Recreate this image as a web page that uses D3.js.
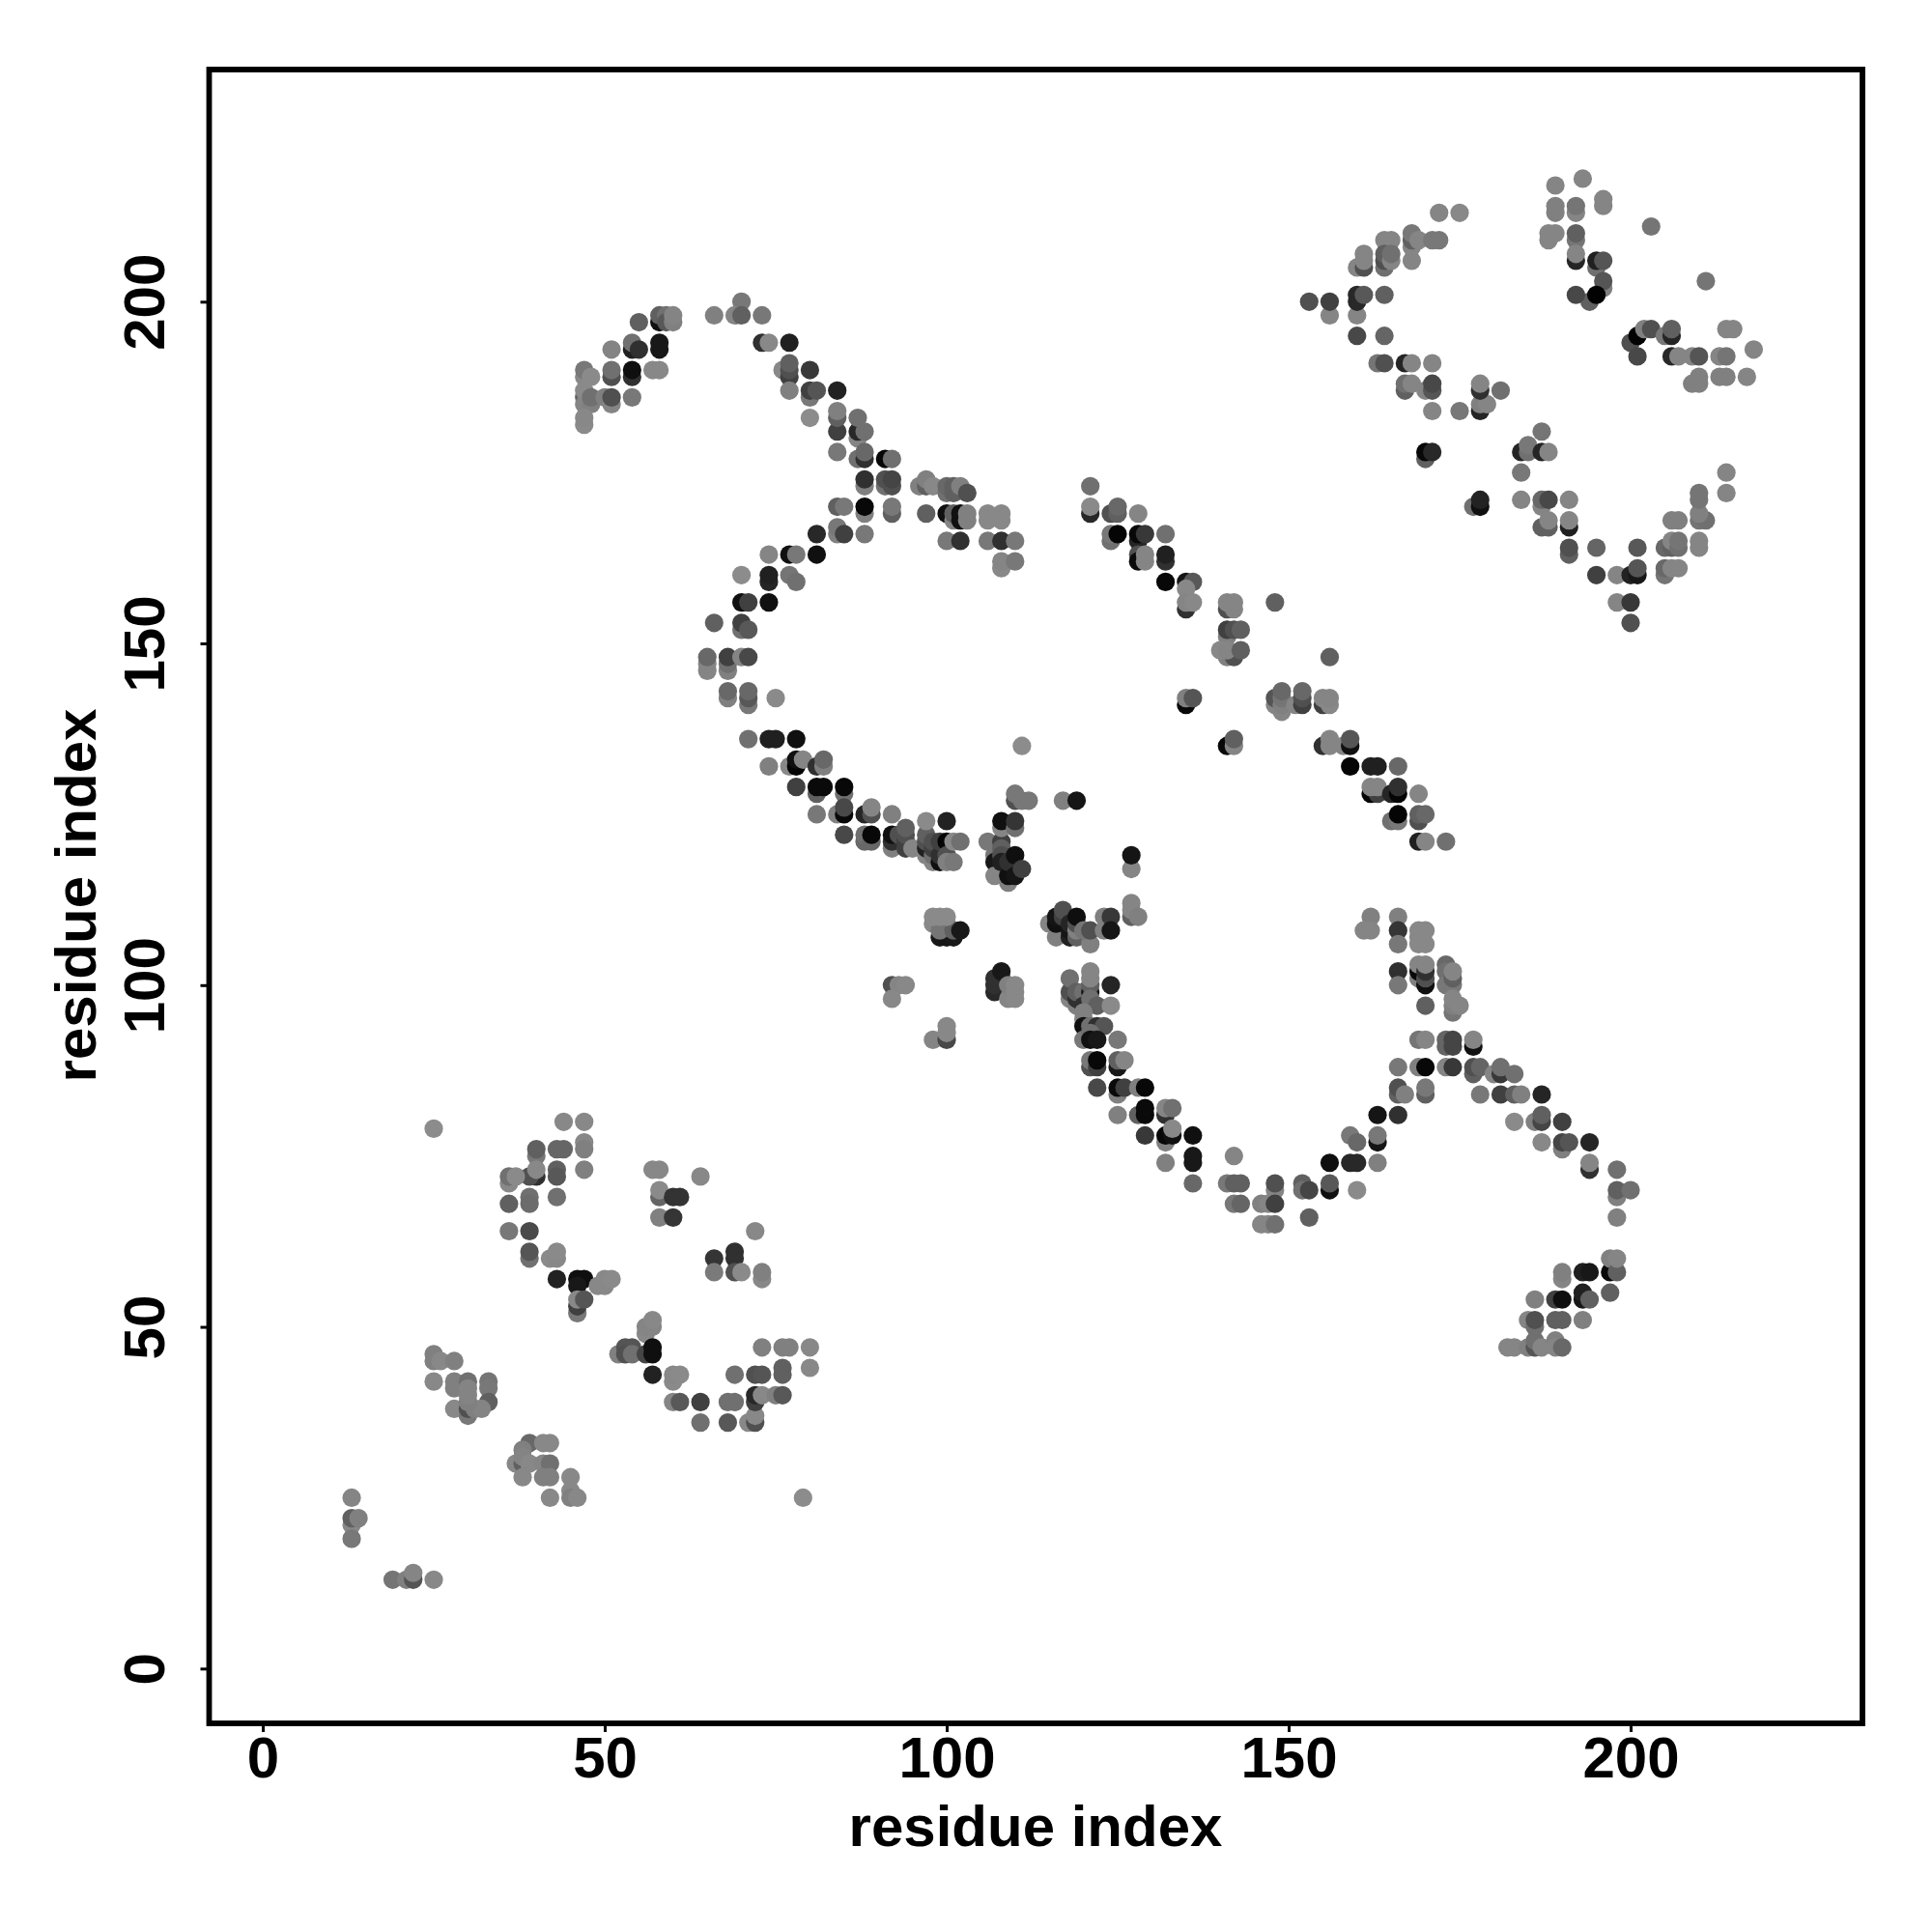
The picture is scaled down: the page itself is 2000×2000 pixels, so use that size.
<!DOCTYPE html>
<html><head><meta charset="utf-8">
<script src="https://cdn.jsdelivr.net/npm/d3@7"></script>
<style>html,body{margin:0;background:#fff}svg{display:block}text{font-family:"Liberation Sans",Arial,sans-serif;font-weight:700;fill:#000}</style>
</head><body><svg id="c" width="2000" height="2000"></svg>
<script>
const tickValues=[0,50,100,150,200];
const axisTitle="residue index";
// each contact: [residue i, residue j, grey level]
const lowerLeftA=[[25,79,0x8c],[44,80,0x88],[47,80,0x88],[47,77,0x88],[47,76,0x80],[40,75,0x78],[40,76,0x60],[43,76,0x66],[44,76,0x66],[40,72,0x30],[39,72,0x50],[40,73,0x88],[43,73,0x60],[43,72,0x58],[47,73,0x80],[36,71,0x88],[36,72,0x70],[37,72,0x8a],[36,68,0x60],[39,69,0x70],[39,68,0x6c],[43,69,0x70],[36,64,0x78],[39,64,0x4a],[39,60,0x70],[39,61,0x55],[42,60,0x8a],[43,60,0x88],[43,61,0x8a],[43,57,0x22],[46,57,0x0f],[47,57,0x0f],[46,56,0x18],[49,56,0x88],[50,56,0x88],[50,57,0x88],[51,57,0x8a],[46,52,0x78],[46,53,0x40],[46,54,0x88],[47,54,0x55]];
const lowerLeftB=[[57,73,0x88],[58,73,0x88],[58,69,0x65],[58,70,0x8a],[60,69,0x33],[61,69,0x33],[58,66,0x80],[60,66,0x35],[64,72,0x88],[72,64,0x88],[66,60,0x35],[69,60,0x30],[69,61,0x30],[66,58,0x7a],[69,58,0x50],[70,58,0x8a],[73,57,0x88],[73,58,0x80],[56,49,0x88],[56,50,0x85],[57,50,0x85],[57,51,0x88],[52,46,0x80],[53,47,0x55],[54,47,0x55],[53,46,0x50],[54,46,0x70],[56,46,0x45],[57,46,0x0f],[57,47,0x0f],[57,43,0x22],[60,42,0x8a],[60,43,0x88],[61,43,0x8a],[60,39,0x85],[61,39,0x58],[64,39,0x40],[68,39,0x70],[69,39,0x70],[64,36,0x70],[68,36,0x58],[71,36,0x88],[72,36,0x50],[72,37,0x88],[69,43,0x70],[72,43,0x50],[73,43,0x55],[76,43,0x60],[76,44,0x60],[73,47,0x80],[76,47,0x80],[77,47,0x80],[80,47,0x88],[80,44,0x88],[72,39,0x40],[72,40,0x28],[73,40,0x88],[75,40,0x80],[76,40,0x58]];
const lowerLeftC=[[25,45,0x80],[25,46,0x80],[26,45,0x88],[28,45,0x80],[25,42,0x88],[28,41,0x80],[28,42,0x80],[30,42,0x70],[33,42,0x75],[33,41,0x78],[33,39,0x60],[28,38,0x88],[30,37,0x78],[30,38,0x50],[31,38,0x80],[32,38,0x84],[30,39,0x80],[30,40,0x84],[30,41,0x84],[39,33,0x68],[41,33,0x88],[42,33,0x88],[38,32,0x80],[37,30,0x88],[38,30,0x60],[38,31,0x84],[39,30,0x88],[41,30,0x85],[42,30,0x70],[38,28,0x88],[41,28,0x80],[42,28,0x80],[45,28,0x88],[45,26,0x88],[42,25,0x88],[45,25,0x80],[46,25,0x88],[79,25,0x8c],[13,25,0x85],[13,21,0x88],[13,22,0x60],[14,22,0x80],[13,19,0x78],[19,13,0x75],[21,13,0x80],[22,13,0x55],[22,14,0x85],[25,13,0x88]];
const upperArcA=[[70,200,0x78],[66,198,0x80],[69,198,0x85],[70,198,0x60],[73,198,0x78],[58,197,0x10],[58,198,0x60],[59,198,0x70],[59,197,0x58],[60,197,0x80],[60,198,0x84],[55,197,0x60],[51,193,0x84],[54,193,0x20],[54,194,0x70],[55,193,0x30],[58,193,0x18],[58,194,0x18],[47,189,0x88],[47,190,0x78],[48,189,0x8a],[51,189,0x50],[51,190,0x70],[54,189,0x30],[54,190,0x0f],[57,190,0x88],[58,190,0x88],[47,186,0x60],[47,185,0x85],[47,187,0x8a],[48,185,0x80],[48,186,0x70],[50,186,0x80],[51,185,0x85],[51,186,0x50],[54,186,0x78],[47,182,0x8a],[47,183,0x88]];
const upperArcB=[[73,194,0x30],[74,194,0x88],[77,194,0x20],[76,190,0x88],[77,189,0x40],[77,190,0x50],[77,191,0x60],[80,190,0x38],[77,187,0x80],[80,186,0x78],[80,187,0x40],[81,187,0x55],[84,187,0x22],[80,183,0x8c],[84,181,0x40],[84,183,0x60],[84,184,0x80],[87,180,0x85],[87,181,0x28],[87,183,0x70],[88,181,0x70],[84,178,0x78],[87,177,0x70],[88,177,0x30],[88,178,0x68],[91,177,0x08],[92,177,0x70],[88,173,0x80],[88,174,0x30],[91,173,0x70],[91,174,0x50],[92,173,0x50],[92,174,0x45],[96,173,0x80],[97,173,0x60],[97,174,0x80],[98,173,0x88],[100,172,0x70],[100,173,0x68],[101,172,0x60],[101,173,0x60],[102,173,0x80],[103,172,0x50]];
const upperArcC=[[84,170,0x60],[85,170,0x78],[88,169,0x80],[88,170,0x08],[92,169,0x60],[92,170,0x78],[97,169,0x60],[100,169,0x10],[101,168,0x85],[101,169,0x60],[102,168,0x10],[102,169,0x10],[103,168,0x80],[103,169,0x80],[106,168,0x88],[106,169,0x88],[108,168,0x88],[108,169,0x88],[84,166,0x80],[84,167,0x78],[85,166,0x40],[88,166,0x78],[81,166,0x28],[81,163,0x10],[74,163,0x85],[77,163,0x10],[78,163,0x78],[100,165,0x78],[102,165,0x30],[106,165,0x78],[108,165,0x30],[110,165,0x78],[108,161,0x88],[108,162,0x85],[110,162,0x78],[70,160,0x8c],[74,159,0x25],[74,160,0x20],[77,160,0x75],[78,159,0x70],[70,156,0x10],[71,156,0x40],[74,156,0x10],[66,153,0x60],[70,152,0x70],[70,153,0x40],[71,152,0x58]];
const innerLoopA=[[65,146,0x85],[65,147,0x85],[65,148,0x68],[68,146,0x80],[68,147,0x70],[68,148,0x40],[70,148,0x85],[71,148,0x48],[68,142,0x80],[68,143,0x68],[71,141,0x78],[71,142,0x58],[71,143,0x68],[75,142,0x8a],[71,136,0x70],[74,136,0x20],[75,136,0x20],[78,136,0x10],[74,132,0x80],[77,132,0x88],[78,132,0x05],[78,133,0x10],[79,133,0x85],[81,132,0x30],[82,132,0x80],[82,133,0x68],[81,128,0x60],[78,129,0x40],[81,129,0x0a],[82,129,0x0a],[85,128,0x70],[85,129,0x08],[84,125,0x80],[81,125,0x78],[85,125,0x08],[85,126,0x48],[88,125,0x25],[89,125,0x50],[89,126,0x85],[92,125,0x80],[111,135,0x8c]];
const centerA=[[85,122,0x48],[88,121,0x68],[88,122,0x70],[89,121,0x68],[89,122,0x08],[92,120,0x80],[92,121,0x30],[92,122,0x10],[93,122,0x50],[94,120,0x40],[94,121,0x40],[94,122,0x50],[94,123,0x60],[95,120,0x85],[97,119,0x85],[97,120,0x20],[97,121,0x50],[97,122,0x60],[97,124,0x8a],[98,118,0x85],[98,119,0x70],[98,120,0x40],[98,121,0x50],[99,118,0x10],[99,119,0x30],[99,121,0x40],[100,124,0x22],[100,121,0x05],[100,119,0x50],[100,118,0x80],[101,118,0x78],[101,121,0x88],[102,121,0x70],[106,121,0x78],[107,119,0x78],[107,118,0x18],[107,116,0x85],[108,121,0x40],[108,120,0x60],[108,119,0x50],[108,118,0x20],[108,123,0x85],[108,124,0x10],[109,115,0x80],[109,116,0x10],[109,118,0x30],[110,123,0x70],[110,124,0x35],[110,119,0x0f],[110,116,0x15],[111,117,0x40],[110,127,0x50],[110,128,0x78],[111,127,0x78],[112,127,0x78],[117,127,0x80],[119,127,0x15],[127,117,0x85],[127,119,0x15],[127,110,0x60],[127,111,0x85],[127,112,0x85],[128,110,0x80]];
const centerB=[[115,109,0x85],[116,107,0x80],[116,109,0x10],[116,110,0x15],[117,110,0x40],[117,111,0x50],[118,107,0x20],[118,108,0x15],[118,109,0x25],[119,107,0x60],[119,108,0x80],[119,109,0x50],[119,110,0x0f],[121,106,0x80],[120,108,0x75],[121,108,0x50],[123,108,0x80],[123,110,0x80],[124,110,0x38],[124,108,0x15],[98,109,0x88],[100,109,0x85],[99,107,0x18],[100,107,0x15],[101,107,0x18],[99,108,0x75],[101,108,0x60],[102,108,0x18],[98,110,0x8a],[99,110,0x8a],[100,110,0x8a],[92,100,0x50],[93,100,0x85],[94,100,0x88],[92,98,0x88],[98,92,0x85],[100,92,0x48],[100,93,0x88],[100,94,0x88],[107,99,0x28],[107,100,0x30],[107,101,0x30],[108,101,0x30],[108,102,0x18],[109,98,0x85],[109,100,0x80],[110,98,0x88],[110,99,0x88],[110,100,0x88]];
const lowerArcA=[[118,98,0x85],[118,99,0x50],[118,101,0x70],[119,97,0x80],[119,98,0x30],[119,99,0x60],[120,99,0x70],[120,97,0x30],[121,99,0x18],[121,100,0x60],[121,101,0x85],[121,102,0x85],[121,98,0x70],[122,97,0x60],[124,100,0x25],[124,97,0x8a],[120,95,0x88],[120,96,0x80],[120,94,0x10],[121,94,0x70],[122,94,0x30],[123,94,0x55],[120,92,0x78],[121,93,0x70],[121,92,0x10],[122,92,0x18],[125,92,0x78],[121,88,0x50],[121,89,0x78],[122,88,0x40],[122,89,0x08],[125,88,0x18],[125,89,0x60],[126,89,0x85],[122,85,0x48],[125,84,0x80],[125,85,0x0a],[126,85,0x40],[128,85,0x80],[129,85,0x08],[125,81,0x80],[128,81,0x60],[129,81,0x0a],[129,82,0x0a],[132,81,0x30],[132,82,0x85],[133,82,0x70],[129,78,0x38],[132,77,0x80],[132,78,0x08],[133,78,0x10],[133,79,0x88],[136,78,0x10],[132,74,0x80],[136,74,0x18],[136,75,0x18],[136,71,0x68],[142,75,0x85],[141,71,0x78],[142,71,0x60],[143,71,0x60],[142,68,0x78],[143,68,0x65],[146,68,0x80],[147,68,0x85],[148,70,0x85],[148,71,0x50],[148,68,0x40],[146,65,0x85],[147,65,0x85],[148,65,0x70]];
const lowerArcB=[[152,71,0x60],[152,70,0x70],[153,70,0x45],[153,66,0x60],[156,70,0x10],[156,71,0x58],[160,70,0x8a],[156,74,0x0f],[159,74,0x28],[160,74,0x28],[163,74,0x80],[159,78,0x78],[160,77,0x68],[163,77,0x15],[163,78,0x78],[163,81,0x15],[166,81,0x30],[166,84,0x60],[166,85,0x50],[167,84,0x80],[170,84,0x60],[170,85,0x78],[166,88,0x78],[169,88,0x80],[170,88,0x08],[173,88,0x85],[174,88,0x38],[177,87,0x60],[177,88,0x50],[178,88,0x65],[180,87,0x85],[181,87,0x38],[181,88,0x70],[183,87,0x70],[169,92,0x75],[170,92,0x85],[173,91,0x65],[173,92,0x65],[174,91,0x45],[174,92,0x45],[177,91,0x10],[177,92,0x85],[178,84,0x78],[181,84,0x40],[183,84,0x60],[184,84,0x80],[187,84,0x25],[183,80,0x8a],[186,80,0x80],[187,80,0x45],[187,81,0x60],[190,80,0x40],[187,77,0x88],[190,76,0x80],[190,77,0x45],[191,77,0x55],[194,77,0x25],[194,73,0x30],[194,74,0x85],[198,73,0x70],[198,69,0x80],[198,70,0x60],[200,70,0x70],[198,66,0x80]];
const lowerArcC=[[162,110,0x80],[166,110,0x80],[161,108,0x85],[162,108,0x85],[166,108,0x35],[166,106,0x78],[169,108,0x88],[170,108,0x88],[169,107,0x88],[169,106,0x88],[170,106,0x88],[166,102,0x30],[166,100,0x78],[169,101,0x80],[169,102,0x08],[169,103,0x85],[170,100,0x10],[170,101,0x50],[170,102,0x30],[170,103,0x85],[173,103,0x68],[173,102,0x70],[173,100,0x78],[174,100,0x78],[174,101,0x60],[174,102,0x85],[170,97,0x60],[174,96,0x75],[174,97,0x80],[174,98,0x85],[175,97,0x85],[197,58,0x0a],[197,60,0x80],[198,58,0x60],[198,60,0x85],[193,58,0x20],[194,58,0x18],[190,57,0x85],[190,58,0x80],[197,55,0x60],[193,54,0x18],[193,55,0x20],[194,54,0x60],[186,54,0x80],[189,54,0x40],[190,54,0x0f],[185,51,0x85],[186,50,0x70],[186,51,0x50],[189,51,0x60],[190,51,0x60],[193,51,0x80],[182,47,0x85],[183,47,0x85],[185,47,0x80],[186,47,0x55],[186,48,0x70],[187,47,0x85],[189,48,0x80],[189,47,0x85],[190,47,0x68]];
const diagonalA=[[121,173,0x70],[121,169,0x28],[121,170,0x8a],[124,169,0x50],[125,169,0x60],[125,170,0x68],[128,169,0x85],[124,165,0x70],[124,166,0x78],[125,166,0x05],[128,165,0x25],[128,166,0x08],[129,166,0x38],[132,166,0x70],[128,163,0x50],[128,162,0x0a],[129,162,0x85],[129,163,0x85],[132,162,0x30],[132,163,0x20],[132,159,0x08],[135,159,0x15],[136,159,0x58],[135,155,0x30],[135,158,0x88],[135,156,0x85],[136,156,0x88],[141,155,0x50],[142,155,0x85],[141,156,0x85],[142,156,0x85],[148,156,0x60],[141,151,0x80],[141,152,0x40],[142,152,0x50],[143,152,0x60],[141,148,0x80],[142,148,0x50],[140,149,0x88],[141,149,0x85],[143,149,0x60],[156,148,0x60],[135,141,0x08],[135,142,0x80],[136,142,0x55],[148,141,0x85],[148,142,0x55],[149,140,0x85],[149,141,0x80],[149,142,0x75],[149,143,0x68],[151,141,0x85],[152,141,0x40],[152,142,0x50],[152,143,0x68],[155,141,0x40],[155,142,0x85],[156,141,0x88],[156,142,0x85]];
const diagonalB=[[141,135,0x08],[142,135,0x85],[142,136,0x60],[155,135,0x30],[156,135,0x85],[156,136,0x85],[158,135,0x85],[159,135,0x10],[159,136,0x55],[159,132,0x05],[162,132,0x20],[163,132,0x20],[166,132,0x68],[162,128,0x05],[163,128,0x40],[162,129,0x85],[163,129,0x85],[165,128,0x25],[166,128,0x05],[166,129,0x30],[169,128,0x85],[165,124,0x70],[166,124,0x78],[166,125,0x05],[169,124,0x50],[169,125,0x60],[170,125,0x68],[169,121,0x20],[170,121,0x85],[173,121,0x70]];
const upperRightA=[[153,200,0x50],[156,198,0x85],[156,200,0x40],[160,198,0x85],[160,200,0x28],[160,201,0x28],[161,201,0x58],[164,201,0x60],[160,195,0x48],[164,195,0x65],[163,191,0x75],[164,191,0x50],[167,191,0x25],[168,191,0x85],[171,191,0x85],[167,187,0x60],[167,188,0x70],[168,188,0x85],[170,187,0x85],[171,187,0x55],[171,188,0x48],[171,184,0x85],[175,184,0x78],[178,184,0x25],[178,185,0x80],[179,185,0x85],[178,187,0x30],[178,188,0x85],[181,187,0x70],[170,177,0x60],[170,178,0x08],[171,178,0x28],[184,178,0x25],[185,178,0x70],[185,179,0x78],[187,178,0x25],[188,178,0x85],[187,181,0x75],[184,175,0x78],[177,170,0x70],[178,170,0x10],[178,171,0x22],[184,171,0x85],[187,170,0x85],[187,171,0x68],[188,171,0x48],[191,171,0x85],[187,167,0x60],[188,167,0x60],[188,168,0x85],[191,167,0x20],[191,168,0x85],[191,163,0x60],[191,164,0x50],[195,164,0x65],[201,164,0x58],[195,160,0x40],[198,160,0x85],[200,160,0x22],[201,160,0x18],[201,161,0x55],[198,156,0x85],[200,156,0x38],[200,153,0x50]];
const upperRightB=[[205,160,0x75],[205,161,0x68],[206,161,0x85],[207,161,0x85],[205,164,0x68],[206,164,0x60],[206,165,0x85],[207,164,0x70],[207,165,0x75],[210,164,0x85],[210,165,0x85],[206,168,0x80],[207,168,0x80],[210,168,0x75],[211,168,0x70],[210,169,0x80],[210,171,0x75],[210,172,0x75],[214,172,0x85],[214,175,0x85],[172,213,0x85],[175,213,0x88],[164,209,0x85],[165,209,0x85],[168,206,0x85],[168,208,0x85],[168,209,0x60],[168,210,0x78],[169,209,0x85],[171,209,0x78],[172,209,0x78],[160,205,0x85],[161,205,0x50],[161,206,0x85],[161,207,0x85],[164,205,0x70],[164,206,0x50],[164,207,0x60],[165,206,0x85],[165,207,0x70]];
const upperRightC=[[189,217,0x85],[193,218,0x85],[189,213,0x80],[189,214,0x80],[192,213,0x85],[192,214,0x75],[196,214,0x85],[196,215,0x85],[188,209,0x85],[188,210,0x85],[189,210,0x85],[192,209,0x75],[192,210,0x60],[192,206,0x25],[192,207,0x85],[195,205,0x70],[195,206,0x20],[196,206,0x55],[196,202,0x80],[196,203,0x55],[194,200,0x60],[195,201,0x02],[192,201,0x48],[203,211,0x75],[211,203,0x75],[200,194,0x50],[201,195,0x02],[201,192,0x48],[202,196,0x80],[203,196,0x50],[205,195,0x78],[206,195,0x25],[206,196,0x60],[206,192,0x28],[207,192,0x85],[209,192,0x85],[210,192,0x55],[213,192,0x85],[214,192,0x75],[214,196,0x85],[215,196,0x85],[218,193,0x85],[209,188,0x80],[210,188,0x80],[210,189,0x80],[213,189,0x80],[214,189,0x80],[217,189,0x85]];

const contacts=[lowerLeftA,lowerLeftB,lowerLeftC,upperArcA,upperArcB,upperArcC,innerLoopA,centerA,centerB,lowerArcA,lowerArcB,lowerArcC,diagonalA,diagonalB,upperRightA,upperRightB,upperRightC].flat();

const svg=d3.select("#c");
const x=d3.scaleLinear().domain([0,200]).range([272,1688]);
const y=d3.scaleLinear().domain([0,200]).range([1727.3,312.3]);
const box={l:216.5,r:1928,t:72,b:1784};
const grey=d3.scaleLinear().domain([0,255]).range(["#000","#fff"]);

svg.append("g").selectAll("circle").data(contacts).join("circle")
  .attr("cx",d=>x(d[0])).attr("cy",d=>y(d[1])).attr("r",9.6).attr("fill",d=>grey(d[2]));

svg.append("rect").attr("x",box.l).attr("y",box.t).attr("width",box.r-box.l).attr("height",box.b-box.t)
  .attr("fill","none").attr("stroke","#000").attr("stroke-width",5.8);

const ax=svg.append("g").attr("transform",`translate(0,${box.b})`)
  .call(d3.axisBottom(x).tickValues(tickValues).tickSize(9).tickPadding(0));
ax.select(".domain").remove();
ax.selectAll("line").attr("stroke","#000").attr("stroke-width",3);
ax.selectAll("text").attr("y",0).attr("dy",0).attr("transform","translate(0,55.5)").attr("font-size",60).attr("text-anchor","middle");

const ay=svg.append("g").attr("transform",`translate(${box.l},0)`)
  .call(d3.axisLeft(y).tickValues(tickValues).tickSize(9).tickPadding(0));
ay.select(".domain").remove();
ay.selectAll("line").attr("stroke","#000").attr("stroke-width",3);
ay.selectAll("text").attr("x",0).attr("y",0).attr("dy",0)
  .attr("transform","translate(-46.5,0)rotate(-90)").attr("font-size",60).attr("text-anchor","middle");

svg.append("text").attr("x",1072).attr("y",1911).attr("text-anchor","middle").attr("font-size",60).text(axisTitle);
svg.append("text").attr("transform","translate(99,927)rotate(-90)").attr("text-anchor","middle").attr("font-size",60).text(axisTitle);
</script></body></html>
